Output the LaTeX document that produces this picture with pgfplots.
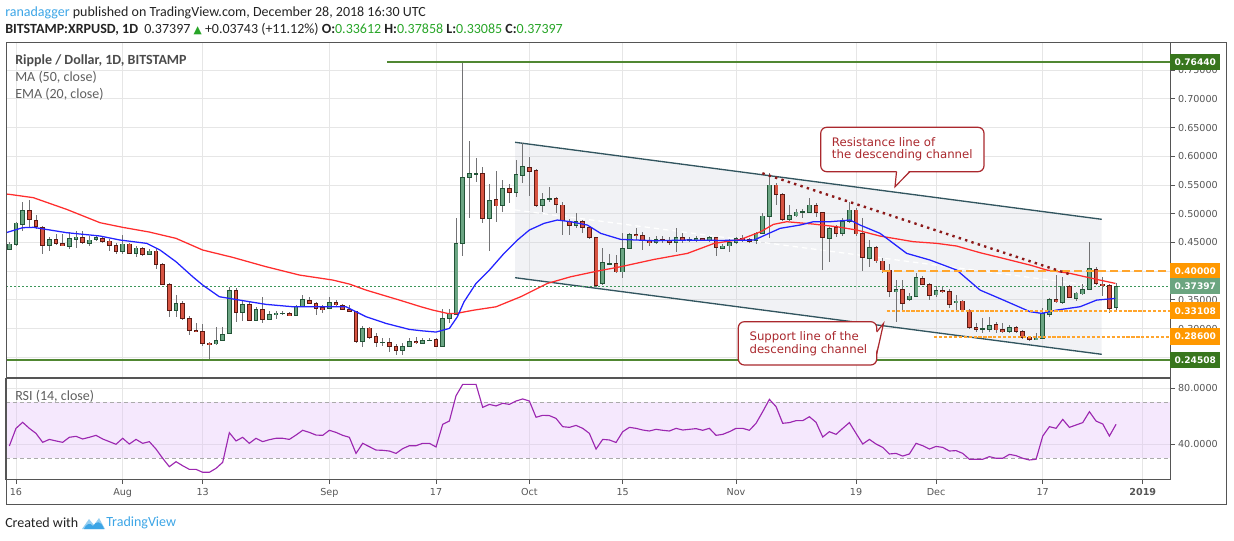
\documentclass[border=0pt]{standalone}
\usepackage{fontspec}
\setmainfont{Carlito}
\newfontfamily\dv{DejaVu Sans}
\usepackage{pgfplots}
\pgfplotsset{compat=1.18}
\usepackage{pgfplotstable}

\definecolor{upf}{RGB}{107,165,131}
\definecolor{upb}{RGB}{34,84,55}
\definecolor{dnf}{RGB}{215,84,66}
\definecolor{dnb}{RGB}{91,26,19}
\definecolor{wickc}{RGB}{115,115,117}
\definecolor{maR}{RGB}{255,45,45}
\definecolor{emaB}{RGB}{35,35,255}
\definecolor{gridc}{RGB}{230,230,230}
\definecolor{axc}{RGB}{85,85,85}
\definecolor{lvlG}{RGB}{56,118,29}
\definecolor{lvlGl}{RGB}{80,135,50}
\definecolor{lvlO}{RGB}{255,152,0}
\definecolor{lvlOl}{RGB}{255,165,45}
\definecolor{curG}{RGB}{107,165,128}
\definecolor{curGl}{RGB}{60,150,90}
\definecolor{chanL}{RGB}{50,85,95}
\definecolor{chanF}{RGB}{200,205,215}
\definecolor{resR}{RGB}{140,25,25}
\definecolor{callR}{RGB}{170,40,45}
\definecolor{rsiP}{RGB}{156,39,176}
\definecolor{rsiF}{RGB}{225,190,250}
\definecolor{dashg}{RGB}{170,170,170}
\definecolor{tvblue}{RGB}{60,165,230}
\definecolor{txtG}{RGB}{40,165,40}
\definecolor{hdr}{RGB}{35,35,35}
\definecolor{lblc}{RGB}{85,85,85}

\pgfplotstableread{
d O H L C
-1 0.4380 0.4508 0.4369 0.4473
0 0.4462 0.4862 0.4438 0.4839
1 0.4816 0.5205 0.4706 0.5060
5 0.4450 0.4601 0.4357 0.4555
8 0.4433 0.4688 0.4392 0.4572
9 0.4555 0.4700 0.4409 0.4595
11 0.4485 0.4613 0.4444 0.4543
12 0.4555 0.4613 0.4531 0.4589
16 0.4345 0.4624 0.4293 0.4473
18 0.4311 0.4438 0.4247 0.4403
20 0.4293 0.4380 0.4276 0.4351
24 0.3311 0.3584 0.3207 0.3439
30 0.2730 0.3027 0.2713 0.2794
31 0.2794 0.3027 0.2777 0.2904
32 0.2916 0.3730 0.2904 0.3666
34 0.3276 0.3485 0.3137 0.3422
36 0.3143 0.3369 0.3131 0.3334
38 0.3160 0.3305 0.3154 0.3247
39 0.3247 0.3311 0.3166 0.3271
40 0.3259 0.3300 0.3230 0.3271
42 0.3224 0.3410 0.3218 0.3387
43 0.3387 0.3584 0.3369 0.3509
47 0.3352 0.3549 0.3334 0.3456
52 0.2771 0.3050 0.2684 0.3003
55 0.2754 0.2829 0.2701 0.2765
58 0.2620 0.2742 0.2533 0.2695
59 0.2690 0.2841 0.2684 0.2777
61 0.2742 0.2835 0.2730 0.2794
62 0.2788 0.2829 0.2777 0.2800
64 0.2684 0.3334 0.2678 0.3178
65 0.3178 0.3340 0.3090 0.3253
66 0.3247 0.4920 0.3235 0.4484
67 0.4484 0.7644 0.4269 0.5635
68 0.5635 0.6274 0.4920 0.5704
69 0.5693 0.5966 0.5559 0.5704
71 0.4920 0.5518 0.4356 0.5234
73 0.5147 0.5588 0.5036 0.5443
75 0.5373 0.5937 0.5298 0.5687
76 0.5669 0.6227 0.5530 0.5826
79 0.5147 0.5356 0.5036 0.5251
80 0.5263 0.5472 0.5210 0.5269
84 0.4798 0.5007 0.4746 0.4868
88 0.3787 0.4397 0.3752 0.4153
89 0.4124 0.4298 0.4107 0.4130
91 0.3985 0.4659 0.3874 0.4391
92 0.4391 0.4670 0.4380 0.4641
96 0.4496 0.4618 0.4473 0.4548
99 0.4502 0.4746 0.4339 0.4583
101 0.4542 0.4589 0.4513 0.4554
102 0.4531 0.4612 0.4513 0.4571
104 0.4531 0.4612 0.4513 0.4589
106 0.4397 0.4473 0.4380 0.4438
107 0.4438 0.4554 0.4339 0.4502
108 0.4502 0.4600 0.4467 0.4566
111 0.4531 0.4688 0.4473 0.4659
112 0.4659 0.5007 0.4647 0.4961
113 0.4949 0.5704 0.4583 0.5501
116 0.4902 0.5152 0.4879 0.4972
117 0.4961 0.5088 0.4937 0.5030
118 0.5025 0.5077 0.4932 0.5036
119 0.5025 0.5269 0.5007 0.5152
122 0.4571 0.4775 0.4165 0.4746
124 0.4659 0.4920 0.4612 0.4862
125 0.4862 0.5211 0.4833 0.5066
128 0.4223 0.4543 0.4066 0.4415
132 0.3642 0.3846 0.3119 0.3683
134 0.3508 0.3613 0.3485 0.3567
135 0.3555 0.3973 0.3543 0.3892
138 0.3584 0.3741 0.3555 0.3665
141 0.3445 0.3584 0.3323 0.3480
145 0.2991 0.3177 0.2916 0.3003
146 0.2991 0.3195 0.2945 0.3050
149 0.2951 0.3061 0.2928 0.3020
153 0.2811 0.2928 0.2800 0.2835
154 0.2823 0.3352 0.2811 0.3265
155 0.3247 0.3526 0.3206 0.3508
157 0.3450 0.3904 0.3427 0.3741
159 0.3526 0.3642 0.3485 0.3619
160 0.3602 0.3776 0.3584 0.3683
161 0.3683 0.4502 0.3671 0.4049
165 0.33612 0.37858 0.33085 0.37397
}\up

\pgfplotstableread{
d O H L C
2 0.5060 0.5240 0.4775 0.4903
3 0.4886 0.4979 0.4729 0.4775
4 0.4764 0.4787 0.4305 0.4450
6 0.4555 0.4642 0.4450 0.4485
7 0.4485 0.4642 0.4433 0.4444
10 0.4589 0.4694 0.4467 0.4502
13 0.4572 0.4613 0.4496 0.4520
14 0.4526 0.4566 0.4357 0.4444
15 0.4450 0.4496 0.4299 0.4345
17 0.4473 0.4496 0.4293 0.4311
19 0.4392 0.4427 0.4270 0.4293
21 0.4351 0.4380 0.4043 0.4119
22 0.4119 0.4148 0.3759 0.3770
23 0.3770 0.3788 0.3207 0.3311
25 0.3439 0.3485 0.3149 0.3178
26 0.3178 0.3218 0.2881 0.2968
27 0.2968 0.3090 0.2934 0.2945
28 0.2951 0.3085 0.2695 0.2742
29 0.2748 0.2771 0.2451 0.2724
33 0.3666 0.3700 0.3120 0.3276
35 0.3422 0.3468 0.3131 0.3143
37 0.3334 0.3549 0.3102 0.3154
41 0.3265 0.3282 0.3218 0.3224
44 0.3491 0.3544 0.3422 0.3433
45 0.3439 0.3456 0.3230 0.3346
46 0.3363 0.3410 0.3276 0.3334
48 0.3451 0.3497 0.3381 0.3410
49 0.3404 0.3422 0.3317 0.3329
50 0.3334 0.3404 0.3294 0.3300
51 0.3300 0.3311 0.2754 0.2771
53 0.3009 0.3032 0.2817 0.2841
54 0.2858 0.2928 0.2684 0.2754
56 0.2759 0.2829 0.2596 0.2684
57 0.2684 0.2730 0.2533 0.2620
60 0.2777 0.2846 0.2736 0.2754
63 0.2812 0.2829 0.2672 0.2684
70 0.5704 0.5809 0.4833 0.4920
72 0.5251 0.5751 0.4862 0.5135
74 0.5443 0.5513 0.5181 0.5373
77 0.5809 0.5995 0.5315 0.5739
78 0.5757 0.5786 0.5123 0.5147
81 0.5269 0.5298 0.5019 0.5164
82 0.5152 0.5199 0.4629 0.4874
83 0.4856 0.4908 0.4629 0.4798
85 0.4868 0.4891 0.4670 0.4757
86 0.4763 0.4775 0.4560 0.4589
87 0.4589 0.4600 0.3717 0.3752
90 0.4130 0.4281 0.3961 0.3985
93 0.4641 0.4746 0.4542 0.4618
94 0.4618 0.4688 0.4368 0.4542
95 0.4525 0.4589 0.4438 0.4496
97 0.4548 0.4618 0.4496 0.4525
98 0.4542 0.4600 0.4455 0.4502
100 0.4583 0.4670 0.4496 0.4531
103 0.4566 0.4583 0.4519 0.4531
105 0.4589 0.4600 0.4269 0.4409
109 0.4571 0.4629 0.4513 0.4554
110 0.4554 0.4571 0.4496 0.4519
114 0.5501 0.5542 0.5152 0.5338
115 0.5338 0.5356 0.4879 0.4902
120 0.5141 0.5193 0.4949 0.5025
121 0.5019 0.5036 0.4019 0.4583
123 0.4758 0.4804 0.4601 0.4659
126 0.5066 0.5095 0.4618 0.4647
127 0.4659 0.4920 0.4008 0.4241
129 0.4415 0.4444 0.4136 0.4177
130 0.4177 0.4223 0.3973 0.4020
131 0.4020 0.4124 0.3555 0.3642
133 0.3683 0.3846 0.3294 0.3439
136 0.3875 0.3915 0.3753 0.3770
137 0.3770 0.3787 0.3497 0.3572
139 0.3665 0.3729 0.3613 0.3636
140 0.3648 0.3683 0.3352 0.3421
142 0.3480 0.3497 0.3294 0.3323
143 0.3323 0.3334 0.2986 0.3020
144 0.3020 0.3102 0.2945 0.2986
147 0.3073 0.3119 0.2928 0.2974
148 0.2980 0.3090 0.2928 0.2951
150 0.3020 0.3044 0.2916 0.2945
151 0.2951 0.2974 0.2823 0.2846
152 0.2846 0.2864 0.2788 0.2811
156 0.3508 0.3933 0.3450 0.3468
158 0.3729 0.3758 0.3526 0.3543
162 0.4031 0.4078 0.3758 0.3787
163 0.3776 0.3904 0.3572 0.3747
164 0.3753 0.3776 0.3265 0.3352
}\dn

\pgfplotstableread{
d ma
-1.5 0.5345
-1 0.5339
2.6 0.5281
7.6 0.5077
12.6 0.4845
16 0.4764
20 0.4682
24 0.4572
28 0.4369
32.5 0.4241
37.5 0.4078
42.5 0.3933
47.5 0.3846
50 0.3776
52.5 0.3671
57.5 0.3497
60.75 0.3380
62.5 0.3323
64.7 0.3265
66 0.3264
68.7 0.3322
72 0.3380
75.7 0.3555
79.7 0.3787
83.2 0.3903
87.2 0.4002
90.7 0.4078
95.7 0.4205
100.7 0.4310
104.7 0.4484
108.7 0.4554
111.7 0.4688
113.6 0.4815
115.6 0.4862
119.6 0.4821
123.1 0.4775
126.1 0.4717
129.6 0.4612
134.6 0.4514
138.1 0.4485
141.1 0.4438
144.6 0.4322
148.1 0.4223
152.1 0.4107
154.6 0.4020
158.1 0.3962
162.1 0.3857
164.9 0.3787
}\matab

\pgfplotstableread{
d ema
-1.5 0.4670
-1 0.4688
1 0.4758
2.6 0.4764
7.6 0.4671
12.6 0.4613
15.6 0.4543
19.6 0.4485
21.6 0.4369
24 0.4165
26.5 0.3904
28 0.3759
30.5 0.3555
33.5 0.3497
37.5 0.3422
41.5 0.3381
45.5 0.3381
49.5 0.3381
50.5 0.3323
52.5 0.3207
55.5 0.3090
59 0.2986
61 0.2960
63 0.2940
65 0.3003
66.2 0.3206
67.2 0.3467
69 0.3787
71 0.4019
73.2 0.4310
75.2 0.4542
77 0.4717
79.2 0.4833
81.2 0.4891
83.2 0.4862
85.7 0.4804
87.7 0.4659
90.7 0.4554
95.7 0.4531
100.7 0.4542
105.7 0.4536
110.7 0.4542
112.7 0.4647
114.6 0.4746
117.6 0.4804
119.6 0.4862
122.1 0.4862
125.1 0.4891
126.6 0.4804
129.6 0.4659
133.6 0.4310
137.1 0.4194
141.1 0.4020
144.6 0.3671
148.1 0.3497
152.1 0.3294
153.85 0.3265
156.1 0.3323
159.6 0.3381
162.1 0.3497
164.9 0.3526
}\ematab

\pgfplotstableread{
d rsi
-1 38.8
0 51.4
1 55.7
2 51.4
3 47.8
4 41.4
5 43.5
6 42.4
7 41.4
8 45
9 45.7
10 43.8
11 45
12 46.4
13 43.8
14 41.9
15 40
16 44.3
17 40.2
18 43.5
19 40.7
20 41.9
21 36.6
22 30
23 24
24 27.6
25 24.7
26 22.1
27 22.1
28 20
29 20
30 22.8
31 27.1
32 48.3
33 42.4
34 45
35 40.7
36 44.3
37 41.9
38 43.3
39 44.3
40 44.3
41 43.5
42 46.6
43 50
44 48.5
45 46.6
46 46.4
47 50
48 48.5
49 46.4
50 45
51 33.5
52 40.7
53 38.3
54 35.9
55 35.7
56 35.2
57 33.5
58 36.9
59 39
60 39
61 40.7
62 40.7
63 38.1
64 54.3
65 56.6
66 74.7
67 82.8
68 82.8
69 82.8
70 66.4
71 68.5
72 67.4
73 69.3
74 68.5
75 70.9
76 72.4
77 70.9
78 59.3
79 60.7
80 60.5
81 58.5
82 52.6
83 52.1
84 53.5
85 51.4
86 47.8
87 36.6
88 43.5
89 43.1
90 41.3
91 49
92 52.1
93 51.4
94 50.2
95 49.5
96 50.7
97 50
98 49.5
99 51.4
100 50.2
101 50.7
102 51.2
103 50
104 51.4
105 46.4
106 47.1
107 49
108 51.4
109 51.4
110 50
111 55
112 63.3
113 72.1
114 66.9
115 55
116 55.5
117 56.9
118 56.9
119 59.7
120 55.7
121 45.2
122 49
123 47.1
124 51.4
125 55.5
126 47.8
127 40.2
128 43.5
129 40.2
130 37.8
131 33.1
132 33.5
133 31.6
134 33.1
135 40.7
136 39
137 36.6
138 38.5
139 37.8
140 35.2
141 35.5
142 33.5
143 29.3
144 29.3
145 29.3
146 31.2
147 30
148 30
149 32.8
150 31.9
151 30
152 28.8
153 29.3
154 45.9
155 52.6
156 51.4
157 57.8
158 52.1
159 53.8
160 55.5
161 63.3
162 56.6
163 54.5
164 45.9
165 54.3
}\rsitab

\pgfplotsset{
  wick/.style={draw=none, mark=none, forget plot, error bars/.cd, y dir=both, y explicit, error mark=none, error bar style={line width=0.75pt, draw=wickc}},
  bodyb/.style={draw=none, mark=none, forget plot, error bars/.cd, y dir=both, y explicit, error mark=none, error bar style={line width=3.4pt, draw=#1}},
  bodyf/.style={draw=none, mark=none, forget plot, error bars/.cd, y dir=both, y explicit, error mark=none, error bar style={line width=2.2pt, draw=#1}},
}

\begin{document}
\begin{tikzpicture}
\path[use as bounding box] (0,0) rectangle (925.5pt,-405.75pt);

% ---------------- price pane
\begin{axis}[
  at={(4.5pt,-32.25pt)}, anchor=north west, scale only axis,
  width=873pt, height=251.25pt,
  xmin=-1.5, xmax=173.09, ymin=0.21394, ymax=0.79756,
  axis line style={draw=axc, line width=0.75pt},
  xtick={0,16,28,47,63,77,91,108,126,138,154,169}, xticklabels={},
  xtick style={draw=none},
  ytick={0.25,0.30,0.35,0.40,0.45,0.50,0.55,0.60,0.65,0.70,0.75},
  yticklabels={,0.30000,0.35000,,0.45000,0.50000,0.55000,0.60000,0.65000,0.70000,0.75000},
  ytick pos=right, yticklabel pos=right, tick align=outside, major tick length=3.75pt,
  ytick style={draw=axc, line width=0.75pt},
  yticklabel style={font=\dv\fontsize{7.2}{8}\selectfont, text=lblc, xshift=-1.2pt},
  grid=major, grid style={draw=gridc, line width=0.75pt},
  clip mode=individual,
]
% channel
\addplot[draw=none, fill=chanF, fill opacity=0.25, forget plot] coordinates {(74.85,0.6246) (162.85,0.4904) (162.85,0.2552) (74.85,0.3887)} -- cycle;
\addplot[chanL, line width=1pt, forget plot] coordinates {(74.85,0.6246) (162.85,0.4904)};
\addplot[chanL, line width=1pt, forget plot] coordinates {(74.85,0.3887) (162.85,0.2552)};
\addplot[white, line width=0.9pt, dash pattern=on 4pt off 3pt, forget plot] coordinates {(74.85,0.5067) (162.85,0.3728)};
% current price line
\addplot[curGl, line width=0.75pt, dash pattern=on 1.5pt off 1.5pt, forget plot] coordinates {(-1.5,0.37397) (173.09,0.37397)};
% candles
\addplot[wick] table[x=d, y expr={(\thisrow{H}+\thisrow{L})/2}, y error expr={(\thisrow{H}-\thisrow{L})/2}] {\up};
\addplot[wick] table[x=d, y expr={(\thisrow{H}+\thisrow{L})/2}, y error expr={(\thisrow{H}-\thisrow{L})/2}] {\dn};
\addplot[bodyb=upb] table[x=d, y expr={(\thisrow{O}+\thisrow{C})/2}, y error expr={abs(\thisrow{C}-\thisrow{O})/2+0.0007}] {\up};
\addplot[bodyf=upf] table[x=d, y expr={(\thisrow{O}+\thisrow{C})/2}, y error expr={max(abs(\thisrow{C}-\thisrow{O})/2-0.0007,0)}] {\up};
\addplot[bodyb=dnb] table[x=d, y expr={(\thisrow{O}+\thisrow{C})/2}, y error expr={abs(\thisrow{C}-\thisrow{O})/2+0.0007}] {\dn};
\addplot[bodyf=dnf] table[x=d, y expr={(\thisrow{O}+\thisrow{C})/2}, y error expr={max(abs(\thisrow{C}-\thisrow{O})/2-0.0007,0)}] {\dn};
% moving averages
\addplot[maR, line width=0.95pt, forget plot] table[x=d, y=ma] {\matab};
\addplot[emaB, line width=0.95pt, forget plot] table[x=d, y=ema] {\ematab};
% levels
\addplot[lvlGl, line width=1.6pt, forget plot] coordinates {(55.65,0.7644) (173.09,0.7644)};
\addplot[lvlGl, line width=1.6pt, forget plot] coordinates {(-1.5,0.24508) (173.09,0.24508)};
\addplot[lvlOl, line width=1.5pt, dash pattern=on 6pt off 3pt, forget plot] coordinates {(129.9,0.40) (173.09,0.40)};
\addplot[lvlOl, line width=1.5pt, dash pattern=on 2.4pt off 1.3pt, forget plot] coordinates {(130.6,0.33108) (173.09,0.33108)};
\addplot[lvlOl, line width=1.5pt, dash pattern=on 2.4pt off 1.3pt, forget plot] coordinates {(137.7,0.286) (173.09,0.286)};
% resistance dotted
\addplot[resR, line width=1.8pt, dash pattern=on 1.8pt off 3.2pt, forget plot] coordinates {(111.95,0.5706) (158.35,0.3934)};
\coordinate (lA) at (axis cs:173.09,0.7644);
\coordinate (lB) at (axis cs:173.09,0.40);
\coordinate (lC) at (axis cs:173.09,0.37397);
\coordinate (lD) at (axis cs:173.09,0.33108);
\coordinate (lE) at (axis cs:173.09,0.286);
\coordinate (lF) at (axis cs:173.09,0.24508);
\end{axis}

% ---------------- RSI pane
\begin{axis}[
  at={(4.5pt,-283.5pt)}, anchor=north west, scale only axis,
  width=873pt, height=75.75pt,
  xmin=-1.5, xmax=173.09, ymin=15.21, ymax=87.36,
  axis line style={draw=axc, line width=0.75pt},
  xtick={0,16,28,47,63,77,91,108,126,138,154,169},
  xticklabels={16,Aug,13,Sep,17,Oct,15,Nov,19,Dec,17,\textbf{2019}},
  ytick={40,80}, yticklabels={40.0000,80.0000},
  xtick pos=bottom, ytick pos=right, yticklabel pos=right,
  tick align=outside, major tick length=3.75pt,
  tick style={draw=axc, line width=0.75pt},
  yticklabel style={font=\dv\fontsize{7.2}{8}\selectfont, text=lblc, xshift=-1.2pt},
  xticklabel style={font=\dv\fontsize{7.2}{8}\selectfont, text=lblc},
  grid=major, grid style={draw=gridc, line width=0.75pt},
]
\addplot[draw=none, fill=rsiF, fill opacity=0.35, forget plot] coordinates {(-1.5,30) (173.09,30) (173.09,70) (-1.5,70)} -- cycle;
\addplot[dashg, line width=0.75pt, dash pattern=on 3pt off 2.2pt, forget plot] coordinates {(-1.5,70) (173.09,70)};
\addplot[dashg, line width=0.75pt, dash pattern=on 3pt off 2.2pt, forget plot] coordinates {(-1.5,30) (173.09,30)};
\addplot[rsiP, line width=0.85pt, forget plot] table[x=d, y=rsi] {\rsitab};
\end{axis}

% ---------------- level labels
\tikzset{lbl/.style={anchor=west, inner sep=0pt, minimum width=37.5pt, minimum height=12.4pt, text=white, font=\dv\bfseries\fontsize{6.8}{8}\selectfont}}
\node[lbl, fill=lvlG] at (lA) {0.76440};
\node[lbl, fill=lvlO] at (lB) {0.40000};
\node[lbl, fill=curG] at (lC) {0.37397};
\node[lbl, fill=lvlO] at (lD) {0.33108};
\node[lbl, fill=lvlO] at (lE) {0.28600};
\node[lbl, fill=lvlG] at (lF) {0.24508};

\begin{scope}[x=0.75pt,y=-0.75pt]
% frame
\draw[axc, line width=0.75pt] (6,43) rectangle (1226,504);
% header
\node[anchor=west, inner sep=0pt, font=\fontsize{10.5}{12}\selectfont, text=hdr] at (5,13.3) {\textcolor{tvblue}{ranadagger} published on TradingView.com, December 28, 2018 16:30 UTC};
\node[anchor=west, inner sep=0pt, font=\fontsize{10.5}{12}\selectfont, text=hdr] at (5,29.3) {\textbf{BITSTAMP:XRPUSD, 1D}\hspace{0.45em}0.37397 {\dv\fontsize{8}{9}\selectfont\textcolor{txtG}{▲}} +0.03743 (+11.12\%) \textbf{O:}\textcolor{txtG}{0.33612} \textbf{H:}\textcolor{txtG}{0.37858} \textbf{L:}\textcolor{txtG}{0.33085} \textbf{C:}\textcolor{txtG}{0.37397}};
% pane legends
\node[anchor=west, inner sep=0pt, font=\bfseries\fontsize{10.5}{12}\selectfont, text={rgb,255:red,75;green,75;blue,75}] at (15,60.7) {Ripple / Dollar, 1D, BITSTAMP};
\node[anchor=west, inner sep=0pt, font=\fontsize{10.5}{12}\selectfont, text={rgb,255:red,95;green,95;blue,95}] at (15,77.7) {MA (50, close)};
\node[anchor=west, inner sep=0pt, font=\fontsize{10.5}{12}\selectfont, text={rgb,255:red,95;green,95;blue,95}] at (15,94) {EMA (20, close)};
\node[anchor=west, inner sep=0pt, font=\fontsize{10.5}{12}\selectfont, text={rgb,255:red,95;green,95;blue,95}] at (15,396) {RSI (14, close)};
% resistance callout
\draw[fill=white, draw=callR, line width=0.9pt, rounded corners=4.5pt] (820.7,127.3) rectangle (984,171.7);
\fill[white] (896.8,170.6) -- (895,186.7) -- (909.2,170.6) -- cycle;
\draw[callR, line width=0.9pt] (896.5,171.7) -- (895,186.7) -- (909.8,171.7);
\node[anchor=base west, inner sep=0pt, text=callR, font=\dv\fontsize{8.8}{10}\selectfont] at (831.7,146.5) {Resistance line of};
\node[anchor=base west, inner sep=0pt, text=callR, font=\dv\fontsize{8.8}{10}\selectfont] at (831.7,158.8) {the descending channel};
% support callout
\draw[fill=white, draw=callR, line width=0.9pt, rounded corners=4.5pt] (738.3,321.7) rectangle (876.7,365);
\fill[white] (875.6,332) -- (883.5,323.5) -- (875.6,354) -- cycle;
\draw[callR, line width=0.9pt] (876.7,332) -- (883.5,323.5) -- (876.7,354);
\node[anchor=base west, inner sep=0pt, text=callR, font=\dv\fontsize{8.8}{10}\selectfont] at (749.3,340) {Support line of the};
\node[anchor=base west, inner sep=0pt, text=callR, font=\dv\fontsize{8.8}{10}\selectfont] at (749.3,353.3) {descending channel};
% footer
\node[anchor=west, inner sep=0pt, font=\fontsize{10.5}{12}\selectfont, text=hdr] at (5,523) {Created with};
\fill[tvblue!55] (82,529) -- (89,519) -- (94,525) -- (99,518) -- (105,529) -- cycle;
\fill[tvblue] (84,529) .. controls (86,524) and (90,522) .. (93,526) .. controls (96,521) and (101,520) .. (104,529) -- cycle;
\node[anchor=west, inner sep=0pt, font=\fontsize{10.5}{12}\selectfont, text=tvblue] at (106,523) {TradingView};
\end{scope}
\end{tikzpicture}
\end{document}
